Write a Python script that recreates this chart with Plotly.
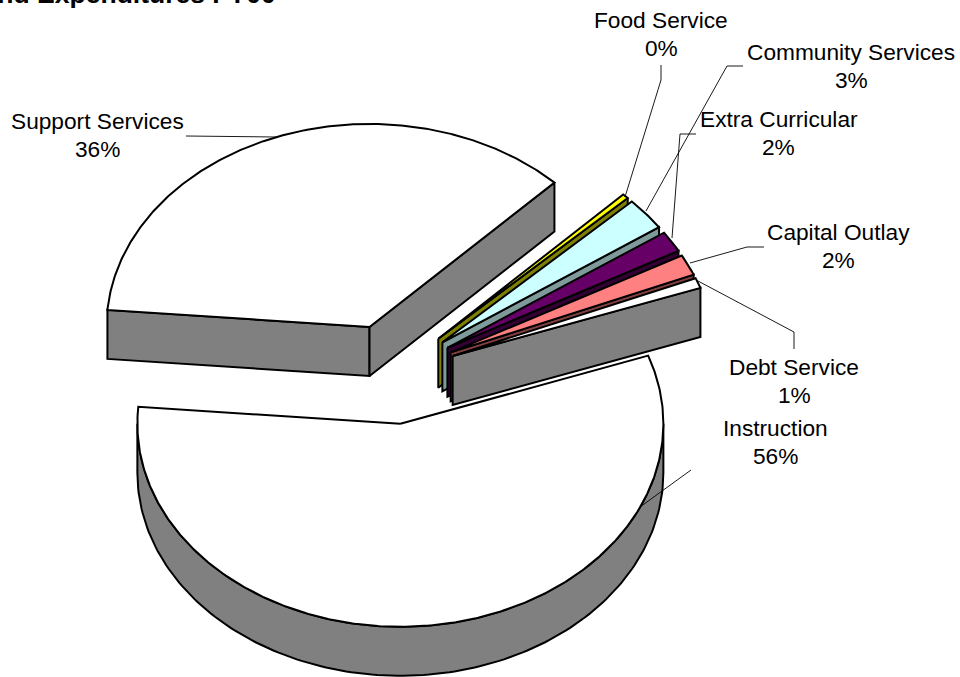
import numpy as np
import plotly.graph_objects as go

# ---- data (share of expenditures, %) ----
categories = ["Instruction", "Support Services", "Food Service", "Community Services",
              "Extra Curricular", "Capital Outlay", "Debt Service"]
shares = [56.83, 36.11, 0.39, 2.61, 1.67, 1.67, 0.81]
percent_labels = ["56%", "36%", "0%", "3%", "2%", "2%", "1%"]

# ---- styles ----
top_colors = ["#FFFFFF", "#FFFFFF", "#FFFF00", "#CCFFFF", "#660066", "#FF8080", "#FFFFFF"]
side_colors = ["#808080", "#808080", "#808000", "#7F9A9A", "#330033", "#804040", "#808080"]
draw_order = ["Support Services", "Food Service", "Community Services", "Extra Curricular",
              "Capital Outlay", "Debt Service", "Instruction"]

# ---- pie geometry (tilted projection, in pixels) ----
CX, CY, RX, RY, DEPTH, PULL = 392, 374, 263, 203, 49, 65
START_ANGLE = 19.6
LW = 2

# ---- label placement: (centre x, first line y, leader path) ----
label_layout = {
    "Food Service": (661, 20, [(661, 65), (661, 80), (625, 197)]),
    "Community Services": (851, 52, [(743, 66), (727, 66), (646, 211)]),
    "Extra Curricular": (778.5, 119, [(696, 134), (680, 134), (672, 238)]),
    "Capital Outlay": (838.5, 232, [(764, 247), (747, 247), (690, 263)]),
    "Debt Service": (794, 367, [(794, 349), (794, 332), (698, 281)]),
    "Instruction": (775.5, 428, [(691, 470), (640, 507)]),
    "Support Services": (97.5, 121, [(186, 136), (277, 137)]),
}
TITLE = "Fund Expenditures FY00"

total = sum(shares)
spans = [s / total * 360 for s in shares]
wedges = {}
a = START_ANGLE
for name, span, top, side in zip(categories, spans, top_colors, side_colors):
    wedges[name] = (a, a - span, top, side)
    a -= span


def project(theta_deg, ox, oy, r=1.0, dz=0.0):
    t = np.radians(theta_deg)
    return ox + r * RX * np.cos(t), oy - r * RY * np.sin(t) + dz


def poly(fig, xs, ys, color):
    xs = list(xs) + [xs[0]]
    ys = list(ys) + [ys[0]]
    fig.add_trace(go.Scatter(x=xs, y=ys, mode="lines", fill="toself", fillcolor=color,
                             line=dict(color="black", width=LW), hoverinfo="skip",
                             showlegend=False))


fig = go.Figure()
for name in draw_order:
    a0, a1, top, side = wedges[name]
    mid = np.radians((a0 + a1) / 2)
    ox = CX + PULL * np.cos(mid)
    oy = CY - PULL * np.sin(mid) * RY / RX

    # radial walls that face the viewer
    for edge, visible in ((a0, np.cos(np.radians(a0)) < 0), (a1, np.cos(np.radians(a1)) > 0)):
        if visible:
            x_o, y_o = project(edge, ox, oy)
            poly(fig, [ox, x_o, x_o, ox], [oy, y_o, y_o + DEPTH, oy + DEPTH], side)

    # curved wall on the front half of the ellipse
    lo, hi = max(a1, -180), min(a0, 0)
    if hi > lo:
        th = np.linspace(hi, lo, 160)
        xs, ys = project(th, ox, oy)
        poly(fig, list(xs) + list(xs[::-1]), list(ys) + list((ys + DEPTH)[::-1]), side)

    # top face
    th = np.linspace(a0, a1, max(8, int((a0 - a1) * 2)))
    xs, ys = project(th, ox, oy)
    poly(fig, [ox] + list(xs), [oy] + list(ys), top)

# leader lines
for name, (cx, ly, path) in label_layout.items():
    fig.add_trace(go.Scatter(x=[p[0] for p in path], y=[p[1] for p in path], mode="lines",
                             line=dict(color="black", width=0.9), hoverinfo="skip",
                             showlegend=False))

# labels
annotations = []
font = dict(family="Liberation Sans, Arial, sans-serif", size=22.7, color="black")
for name, pct in zip(categories, percent_labels):
    cx, ly, _ = label_layout[name]
    annotations.append(dict(x=cx, y=ly, text=name, showarrow=False, xanchor="center",
                            yanchor="middle", font=font, xref="x", yref="y"))
    annotations.append(dict(x=cx, y=ly + 28, text=pct, showarrow=False,
                            xanchor="center", yanchor="middle", font=font, xref="x", yref="y"))
annotations.append(dict(x=278 / 960, y=1 + 6 / 677, text=f"<b>{TITLE}</b>", showarrow=False,
                        xanchor="right", yanchor="middle", xref="paper", yref="paper",
                        font=dict(family="Liberation Sans, Arial, sans-serif", size=26.5,
                                  color="black")))

fig.update_layout(
    width=960, height=677, autosize=False,
    margin=dict(l=0, r=0, t=0, b=0),
    paper_bgcolor="white", plot_bgcolor="white",
    showlegend=False,
    xaxis=dict(range=[0, 960], visible=False, fixedrange=True),
    yaxis=dict(range=[677, 0], visible=False, fixedrange=True),
    annotations=annotations,
)
fig.write_html("out.html", config=dict(displayModeBar=False),
               post_script="document.body.style.margin='0';document.documentElement.style.overflow='hidden';")
